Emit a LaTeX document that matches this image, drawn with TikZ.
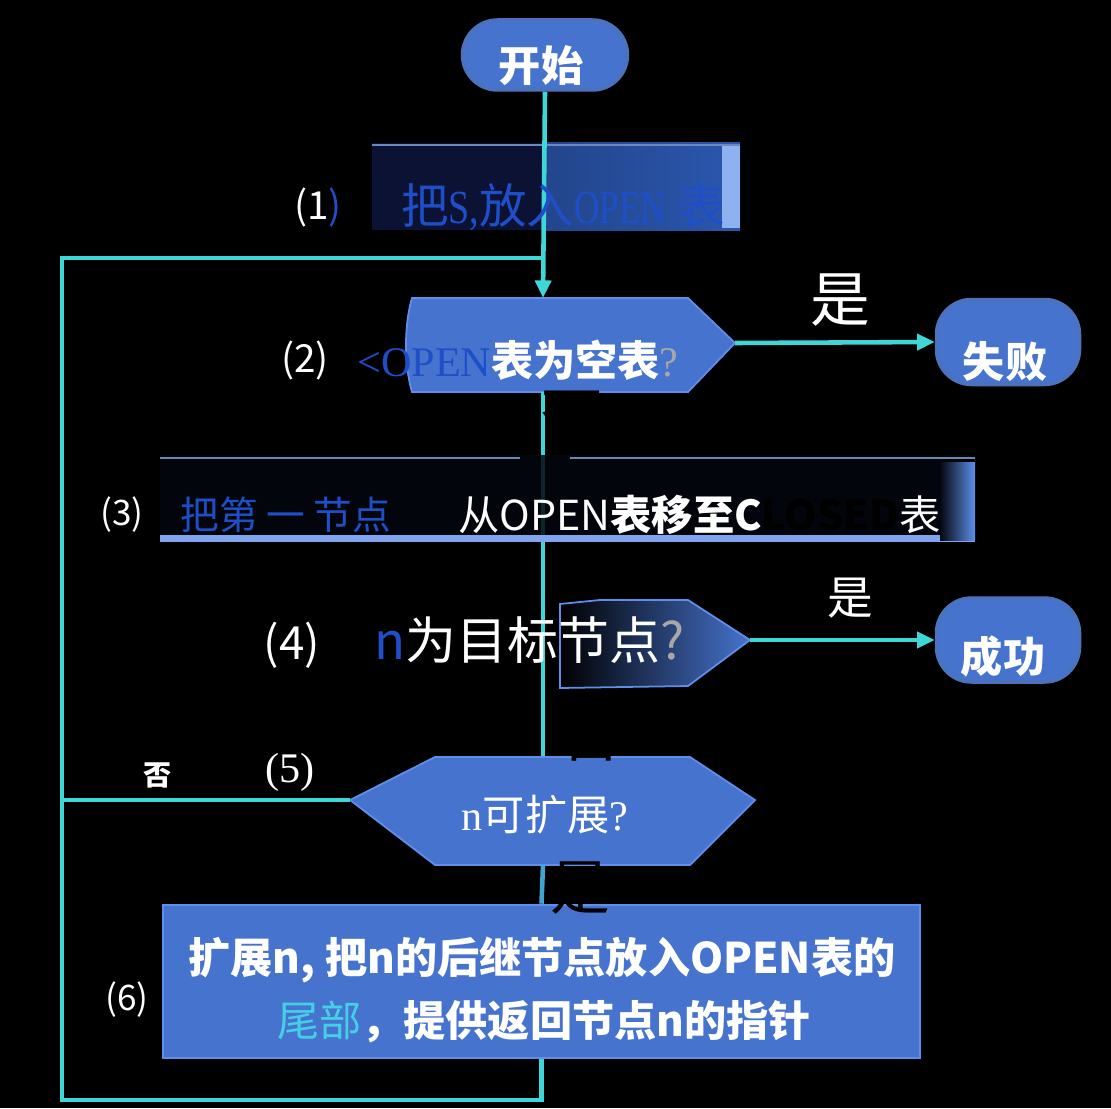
\documentclass[tikz,border=0pt]{standalone}
\usepackage{fontspec}
\setmainfont{Liberation Serif}
\setsansfont{Liberation Sans}
\newfontfamily\cjk{Noto Sans CJK SC}
\usetikzlibrary{shapes.misc,arrows.meta}
\definecolor{bfill}{HTML}{4673CD}
\definecolor{bglow}{HTML}{5E8FEA}
\definecolor{cyanL}{HTML}{3ED6D6}
\definecolor{tblue}{HTML}{1F4FC8}
\definecolor{navy}{HTML}{0B1234}
\definecolor{boxr}{HTML}{2B57AE}
\definecolor{qgray}{HTML}{A8A8A8}
\definecolor{tcyan}{HTML}{45CFE6}
\definecolor{darkb}{HTML}{04070F}
\newcommand\setfs[1]{\fontsize{#1}{#1}\selectfont}
\begin{document}
\begin{tikzpicture}[x=0.02cm,y=-0.02cm,
  flow/.style={draw=cyanL, line width=2.6pt},
  arr/.style={flow,-{Triangle[length=10pt,width=9pt]}},
  term/.style={rounded rectangle, fill=bfill, draw=bglow!80!black, line width=2pt, inner sep=0pt},
  endbox/.style={rectangle, rounded corners=0.7cm, fill=bfill, draw=bglow!80!black, line width=2pt, inner sep=0pt},
  lab/.style={inner sep=0pt, text=white},
  shade/.style={draw=bglow, line width=1pt, fill=bfill}]
\fill[black] (0,0) rectangle (1111,1108);
\useasboundingbox (0,0) rectangle (1111,1108);

% coordinates
\coordinate (d2n) at (543,298);
\coordinate (d2s) at (543,392);
\coordinate (d2e) at (735,343);
\coordinate (d4n) at (543,600);
\coordinate (d4s) at (543,688);
\coordinate (d4e) at (750,640);
\coordinate (d5n) at (543,757);
\coordinate (d5s) at (543,865);
\coordinate (d5w) at (350,800);
\coordinate (lb) at (62,1100);
\coordinate (lt) at (62,258);
\coordinate (jn) at (543,258);
\coordinate (l5) at (62,800);

% start terminal
\node[term, minimum width=3.3cm, minimum height=1.4cm] (start) at (545,55) {};
\node[lab, font=\cjk\bfseries\setfs{24}] (ts) at (541,66) {开始};

% box 1
\node[minimum width=7.36cm, minimum height=1.74cm, inner sep=0pt] (b1) at (556,187) {};
\fill[navy] (372,143) rectangle (545,230);
\fill[left color=boxr!80!black, right color=boxr] (545,143) rectangle (740,230);
\fill[bglow!70] (722,146) rectangle (740,228);
\draw[bglow!60!gray, line width=0.8pt] (372,145) -- (740,145);

% decision 2
\path[shade] (412,298) -- (688,298) -- (735,343) -- (688,392) -- (412,392) .. controls (404,365) and (404,325) .. (412,298) -- cycle;

% fail
\node[endbox, minimum width=2.86cm, minimum height=1.7cm] (fail) at (1008,342) {};
\node[lab, font=\cjk\bfseries\setfs{24}] (tf) at (1005,362) {失败};

% decision 4
\shade[left color=black, right color=bfill] (560,604) -- (600,600) -- (688,600) -- (750,640) -- (688,686) -- (560,688) -- cycle;

% success
\node[endbox, minimum width=2.86cm, minimum height=1.68cm] (succ) at (1008,640) {};
\node[lab, font=\cjk\bfseries\setfs{24}] (tc) at (1003,656) {成功};

% vertical main line (d2 -> d5)
\draw[flow] (d2s) -- (d5n);

% box 3
\node[minimum width=16.3cm, minimum height=1.7cm, inner sep=0pt] (b3) at (567,497) {};
\fill[darkb, fill opacity=0.85] (160,455) rectangle (975,540);
\draw[bglow!40!gray, line width=0.6pt] (160,458) -- (520,458) (570,458) -- (975,458);
\fill[bglow!80] (160,535) rectangle (975,542);
\fill[left color=darkb, right color=bglow] (940,462) rectangle (975,540);

% decision 5
\path[shade] (d5w) -- (435,757) -- (690,757) -- (755,800) -- (690,865) -- (435,865) -- cycle;

% box 6
\node[fill=bfill, draw=bglow, line width=1.5pt, minimum width=15.14cm, minimum height=3.06cm, inner sep=0pt] (b6) at (541.5,981.5) {};

% connectors
\draw[arr] (start.south) -- (d2n);
\draw[flow] (b6.south) |- (lb) -- (lt) -- (jn);
\draw[flow] (d5w) -- (l5);
\draw[arr] (d2e) -- (fail.west);
\draw[arr] (d4e) -- (succ.west);
\draw[flow, cyanL!50!bfill] (d5s) -- (b6.north);

% hidden black labels
\node[inner sep=0pt, text=black, font=\cjk\setfs{36}] (h1) at (572,418) {否};
\node[inner sep=0pt, text=black, font=\cjk\setfs{34}] (h2) at (591,735) {否};
\node[inner sep=0pt, text=black, font=\cjk\setfs{34}] (h3) at (580,888) {是};

% texts
\node[lab, font=\cjk\setfs{22}] (n1) at (318,207) {(1\textcolor{tblue}{)}};
\node[lab, anchor=west, text=tblue, font=\setfs{27}] (t1) at (401,207) {{\cjk 把}\scalebox{0.8}[1]{S,}{\cjk 放入}\scalebox{0.74}[1]{OPEN} {\cjk 表}};

\node[lab, font=\cjk\setfs{22}] (n2) at (305,360) {(2)};
\node[lab, anchor=west, font=\setfs{24}] (t2) at (357,360) {\textcolor{tblue}{<OPEN}{\cjk\bfseries 表为空表}\textcolor{qgray}{?}};
\node[lab, font=\cjk\setfs{34}] (y1) at (840,300) {是};

\node[lab, font=\cjk\setfs{20}] (n3) at (122,515) {(3)};
\node[lab, anchor=west, text=tblue, font=\cjk\setfs{22}] (t3a) at (180,515) {把第 一 节点};
\node[lab, anchor=west, font=\cjk\setfs{23.5}] (t3b) at (458,515) {从OPEN{\bfseries 表移至C\textcolor{black}{LOSED}}表};

\node[lab, font=\cjk\setfs{26}] (n4) at (292,645) {(4)};
\node[lab, anchor=west, font=\cjk\setfs{29}] (t4) at (374,640) {\textcolor{tblue}{n}为目标节点\textcolor{qgray}{?}};
\node[lab, font=\cjk\setfs{26}] (y2) at (850,598) {是};

\node[lab, font=\cjk\bfseries\setfs{16}] (no5) at (158,775) {否};
\node[lab, font=\setfs{24}] (n5) at (290,772) {(5)};
\node[lab, font=\setfs{24}] (t5) at (545,815) {n{\cjk 可扩展}?};

\node[lab, font=\cjk\setfs{20}] (n6) at (127,1000) {(6)};
\node[lab, font=\cjk\bfseries\setfs{24}] (t6a) at (542,960) {扩展n, 把n的后继节点放入OPEN表的};
\node[lab, font=\cjk\setfs{24}] (t6b) at (544,1022) {\textcolor{tcyan}{尾部}{\bfseries ，提供返回节点n的指针}};
\end{tikzpicture}
\end{document}
